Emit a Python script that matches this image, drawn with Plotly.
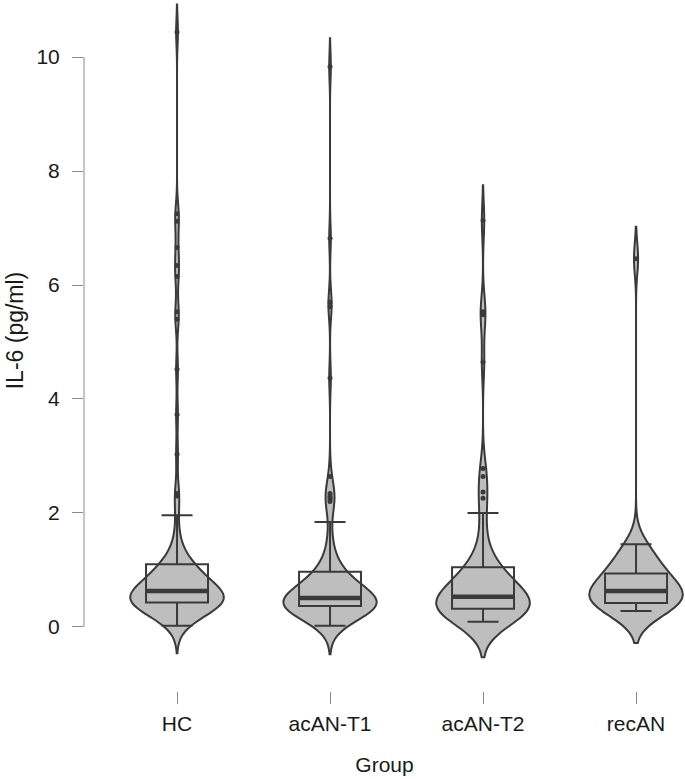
import plotly.graph_objects as go

groups = ["HC", "acAN-T1", "acAN-T2", "recAN"]

hc_values = [
    0.02, 0.08, 0.13, 0.17, 0.20, 0.23, 0.25, 0.27, 0.29, 0.30, 0.31, 0.32, 0.33,
    0.34, 0.35, 0.36, 0.37, 0.38, 0.38, 0.39, 0.40, 0.41, 0.41, 0.42, 0.43,
    0.44, 0.45, 0.46, 0.47, 0.47, 0.48, 0.49, 0.50, 0.50, 0.51, 0.52, 0.52, 0.53,
    0.54, 0.55, 0.56, 0.56, 0.57, 0.58, 0.59, 0.60, 0.60, 0.61, 0.62, 0.63,
    0.64, 0.66, 0.67, 0.69, 0.70, 0.72, 0.74, 0.75, 0.77, 0.79, 0.81, 0.83, 0.85,
    0.87, 0.89, 0.91, 0.93, 0.95, 0.97, 0.99, 1.01, 1.03, 1.05, 1.08, 1.10,
    1.14, 1.19, 1.25, 1.33, 1.45, 1.62, 1.96,
    2.30, 2.34, 3.03, 3.73, 4.52, 5.40, 5.53, 6.15, 6.34, 6.66, 7.12, 7.25, 10.44,
]
t1_values = [
    0.02, 0.07, 0.11, 0.14, 0.17, 0.19, 0.21, 0.23, 0.24, 0.25, 0.26, 0.27, 0.28,
    0.29, 0.30, 0.30, 0.31, 0.32, 0.33, 0.33, 0.34, 0.35, 0.35, 0.36, 0.37,
    0.37, 0.38, 0.38, 0.39, 0.39, 0.40, 0.40, 0.41, 0.41, 0.42, 0.42, 0.43, 0.43,
    0.44, 0.44, 0.45, 0.46, 0.46, 0.47, 0.47, 0.48, 0.49, 0.49, 0.50, 0.51,
    0.52, 0.53, 0.55, 0.56, 0.58, 0.59, 0.61, 0.62, 0.64, 0.65, 0.67, 0.69, 0.71,
    0.73, 0.75, 0.77, 0.79, 0.81, 0.83, 0.85, 0.87, 0.89, 0.92, 0.94, 0.97,
    1.02, 1.09, 1.17, 1.26, 1.38, 1.52, 1.84,
    2.20, 2.24, 2.27, 2.30, 2.34, 2.64, 4.37, 5.62, 5.70, 6.82, 9.83,
]
t2_values = [
    0.09, 0.12, 0.15, 0.17, 0.19, 0.21, 0.22, 0.23, 0.24, 0.25, 0.26, 0.27, 0.28,
    0.29, 0.30, 0.31, 0.32,
    0.33, 0.34, 0.35, 0.36, 0.37, 0.38, 0.39, 0.40, 0.41, 0.42, 0.43, 0.45, 0.46,
    0.48, 0.49, 0.51, 0.53,
    0.55, 0.58, 0.61, 0.64, 0.67, 0.70, 0.73, 0.76, 0.79, 0.82, 0.85, 0.88, 0.91,
    0.94, 0.98, 1.01, 1.05,
    1.13, 1.25, 1.42, 1.68, 2.00,
    2.26, 2.37, 2.64, 2.78, 4.65, 5.48, 5.53, 7.13,
]
rec_values = [
    0.28, 0.31, 0.33, 0.35, 0.37, 0.38, 0.40, 0.41, 0.42,
    0.44, 0.46, 0.48, 0.50, 0.52, 0.55, 0.57, 0.60, 0.63,
    0.66, 0.69, 0.72, 0.75, 0.78, 0.82, 0.86, 0.90, 0.94,
    1.00, 1.06, 1.12, 1.18, 1.25, 1.32, 1.38, 1.45,
    6.46,
]
group_values = [hc_values, t1_values, t2_values, rec_values]
bandwidths = [0.24, 0.25, 0.31, 0.28]

# box statistics
q1 = [0.43, 0.37, 0.32, 0.42]
median = [0.63, 0.51, 0.53, 0.63]
q3 = [1.10, 0.97, 1.05, 0.94]
lower_whisker = [0.02, 0.02, 0.09, 0.28]
upper_whisker = [1.96, 1.84, 2.00, 1.45]

outliers = [
    [2.30, 2.34, 3.03, 3.73, 4.52, 5.40, 5.53, 6.15, 6.34, 6.66, 7.12, 7.25, 10.44],
    [2.20, 2.24, 2.27, 2.30, 2.34, 2.64, 4.37, 5.62, 5.70, 6.82, 9.83],
    [2.26, 2.37, 2.64, 2.78, 4.65, 5.48, 5.53, 7.13],
    [6.46],
]

y_ticks = [0, 2, 4, 6, 8, 10]
y_title = "IL-6 (pg/ml)"
x_title = "Group"

FILL = "#bebebe"
LINE = "#3a3a3a"
AXIS = "#8a8a8a"
FONT = "Liberation Sans, Arial, sans-serif"
VIOLIN_W = 0.61
BOX_W = 0.405

fig = go.Figure()

for g, vals, bw in zip(groups, group_values, bandwidths):
    fig.add_trace(go.Violin(
        x=[g] * len(vals), y=vals, bandwidth=bw, spanmode="soft",
        scalemode="width", width=VIOLIN_W, fillcolor=FILL,
        line=dict(color=LINE, width=2), points=False,
        box_visible=False, meanline_visible=False, showlegend=False,
        hoverinfo="skip",
    ))

for i, g in enumerate(groups):
    fig.add_trace(go.Box(
        x=[g], q1=[q1[i]], median=[median[i]], q3=[q3[i]],
        lowerfence=[lower_whisker[i]], upperfence=[upper_whisker[i]],
        width=BOX_W, whiskerwidth=0.5, fillcolor="rgba(0,0,0,0)",
        line=dict(color=LINE, width=2), boxpoints=False, showlegend=False,
    ))

for i, g in enumerate(groups):
    fig.add_trace(go.Scatter(
        x=[g] * len(outliers[i]), y=outliers[i], mode="markers",
        marker=dict(color=LINE, size=5), showlegend=False, hoverinfo="skip",
    ))

for i in range(len(groups)):
    fig.add_shape(type="line", xref="x", yref="y",
                  x0=i - BOX_W / 2, x1=i + BOX_W / 2, y0=median[i], y1=median[i],
                  line=dict(color=LINE, width=4.5), layer="above")

fig.add_shape(type="line", xref="paper", yref="y", x0=0, x1=0,
              y0=y_ticks[0], y1=y_ticks[-1], line=dict(color=AXIS, width=1))

fig.add_annotation(text=y_title, xref="paper", yref="paper",
                   x=-0.1148, y=0.522, xanchor="center", yanchor="middle",
                   textangle=-90, showarrow=False,
                   font=dict(family=FONT, size=23, color="#1a1a1a"))

fig.update_layout(
    width=685, height=779,
    margin=dict(l=84, r=0, t=0, b=88),
    paper_bgcolor="white", plot_bgcolor="white",
    violinmode="overlay", boxmode="overlay",
    font=dict(family=FONT, size=21, color="#1a1a1a"),
    xaxis=dict(
        type="category", range=[-0.608, 3.32], automargin=False,
        showgrid=False, showline=False, zeroline=False,
        ticks="outside", ticklen=12, tickcolor=AXIS, tickwidth=1,
        ticklabelstandoff=2,
        title=dict(text=x_title, standoff=23, font=dict(size=21)),
    ),
    yaxis=dict(
        range=[-1.123, 11.0], tickvals=y_ticks, automargin=False,
        showgrid=False, showline=False, zeroline=False,
        ticks="outside", ticklen=11, tickcolor=AXIS, tickwidth=1,
        ticklabelstandoff=8,
    ),
)

fig.write_html(
    "out.html",
    config={"displayModeBar": False},
    post_script="document.body.style.margin='0';document.body.style.padding='0';",
)
